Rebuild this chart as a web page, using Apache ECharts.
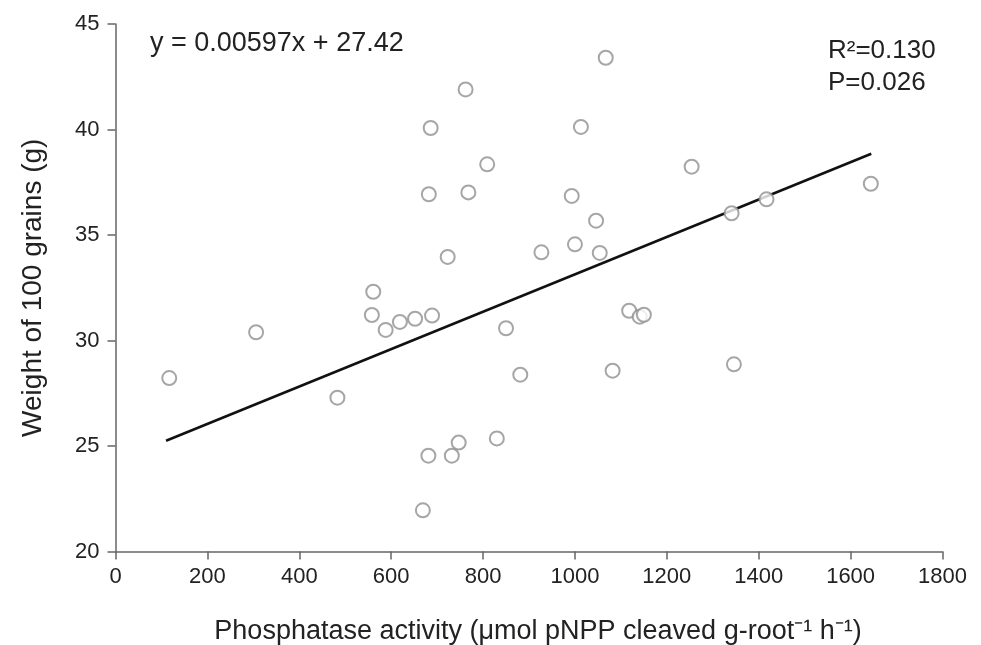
<!DOCTYPE html>
<html>
<head>
<meta charset="utf-8">
<script src="https://cdn.jsdelivr.net/npm/echarts@6/dist/echarts.min.js"></script>
<style>
html,body{margin:0;padding:0;background:#fff;}
#chart{width:981px;height:645px;}
</style>
</head>
<body>
<div id="chart"></div>
<script>
// Phosphatase activity (x) and weight of 100 grains (y)
const activity = [762, 686, 809, 682, 768, 723, 927, 561, 117, 306, 558, 588, 619, 652, 689, 850, 881, 483, 830, 747, 681, 732, 669, 1067, 1013, 1254, 1644, 993, 1046, 1000, 1054, 1341, 1417, 1118, 1141, 1150, 1082, 1346];
const grainWeight = [41.9, 40.07, 38.35, 36.93, 37.02, 33.96, 34.18, 32.31, 28.22, 30.39, 31.21, 30.5, 30.88, 31.03, 31.18, 30.58, 28.38, 27.29, 25.36, 25.16, 24.54, 24.54, 21.95, 43.4, 40.12, 38.24, 37.43, 36.85, 35.68, 34.56, 34.15, 36.03, 36.69, 31.41, 31.13, 31.22, 28.57, 28.87];
// Fitted line as drawn
const trendX = [110, 1645];
const trendY = [25.25, 38.85];
// Annotation texts
const equationText = 'y = 0.00597x + 27.42';
const r2Text = 'R²=0.130';
const pText = 'P=0.026';

const points = activity.map((x, i) => [x, grainWeight[i]]);
const trend = trendX.map((x, i) => [x, trendY[i]]);

const font = 'Liberation Sans, Arial, sans-serif';
const txt = '#222';
const axisCol = '#666';

const chart = echarts.init(document.getElementById('chart'), null, {renderer: 'canvas'});
chart.setOption({
  animation: false,
  backgroundColor: '#fff',
  grid: {left: 115.5, right: 38.5, top: 24, bottom: 93.5, containLabel: false, outerBoundsMode: 'none'},
  xAxis: {
    type: 'value', min: 0, max: 1800, interval: 200,
    name: 'Phosphatase activity (μmol pNPP cleaved g-root⁻¹ h⁻¹)',
    nameLocation: 'middle', nameGap: 67,
    nameTextStyle: {fontFamily: font, fontSize: 27, color: txt, padding: [0, 0, 0, 18]},
    axisLine: {show: true, lineStyle: {color: axisCol, width: 1.5}},
    axisTick: {show: true, length: 8, inside: false, lineStyle: {color: axisCol, width: 1.5}},
    axisLabel: {fontFamily: font, fontSize: 22, color: txt, margin: 14, formatter: v => String(v)},
    splitLine: {show: false}
  },
  yAxis: {
    type: 'value', min: 20, max: 45, interval: 5,
    name: 'Weight of 100 grains (g)',
    nameLocation: 'middle', nameGap: 68, nameRotate: 90,
    nameTextStyle: {fontFamily: font, fontSize: 28, color: txt},
    axisLine: {show: true, lineStyle: {color: axisCol, width: 1.5}},
    axisTick: {show: true, length: 8, inside: false, lineStyle: {color: axisCol, width: 1.5}},
    axisLabel: {fontFamily: font, fontSize: 22, color: txt, margin: 16, formatter: v => String(v)},
    splitLine: {show: false}
  },
  series: [
    {
      type: 'scatter', data: points, symbol: 'circle', symbolSize: 14,
      itemStyle: {color: '#fff', borderColor: '#909090', borderWidth: 2},
      z: 3
    },
    {
      type: 'line', data: trend, symbol: 'none', showSymbol: false,
      lineStyle: {color: '#111', width: 2.5},
      z: 2
    }
  ],
  graphic: [
    {type: 'text', left: 150, top: 30, style: {text: equationText, font: '27px ' + font, fill: txt}},
    {type: 'text', left: 828, top: 38, style: {text: r2Text, font: '26px ' + font, fill: txt}},
    {type: 'text', left: 828, top: 70, style: {text: pText, font: '26px ' + font, fill: txt}}
  ]
});
</script>
</body>
</html>
